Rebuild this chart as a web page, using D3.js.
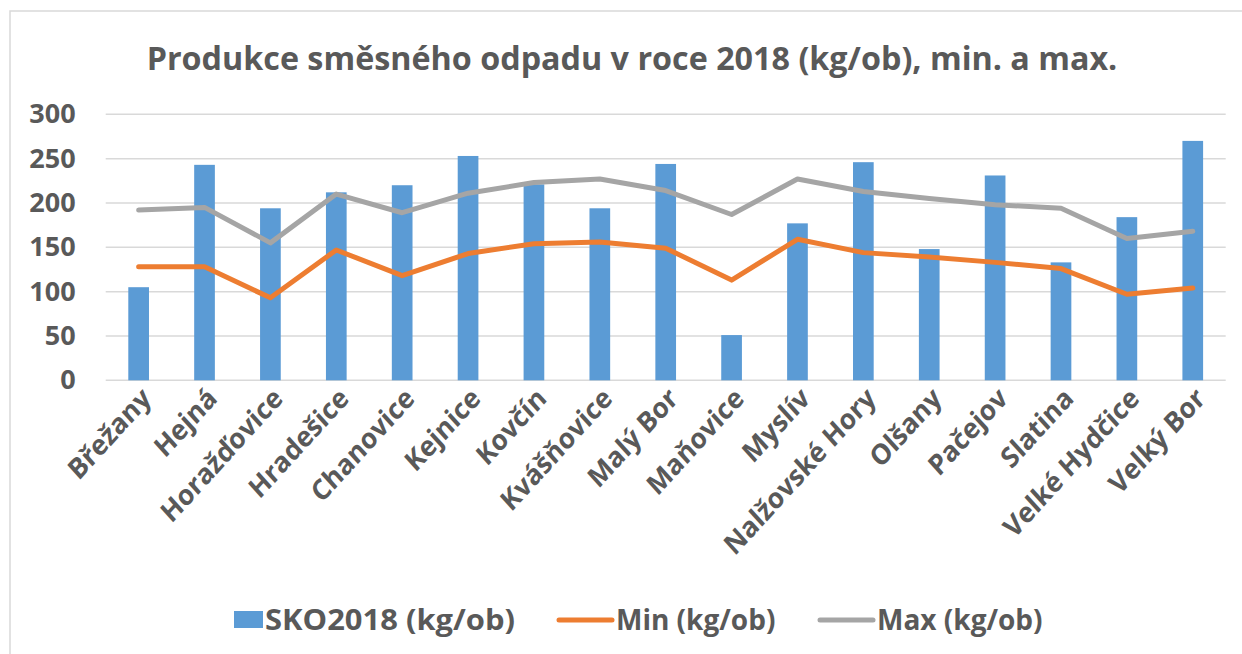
<!DOCTYPE html>
<html>
<head>
<meta charset="utf-8">
<script src="https://cdn.jsdelivr.net/npm/d3@7"></script>
<style>
  body { margin: 0; background: #fff; }
  text { font-family: "Open Sans", sans-serif; font-weight: bold; fill: #595959; }
</style>
</head>
<body>
<div id="container"></div>
<script>
var width = 1242;
var height = 654;

var categories = ["Břežany", "Hejná", "Horažďovice", "Hradešice", "Chanovice", "Kejnice",
    "Kovčín", "Kvášňovice", "Malý Bor", "Maňovice", "Myslív", "Nalžovské Hory",
    "Olšany", "Pačejov", "Slatina", "Velké Hydčice", "Velký Bor"];
var sko2018 = [105, 243, 194, 212, 220, 253, 221, 194, 244, 51, 177, 246, 148, 231, 133, 184, 270];
var minValues = [128, 128, 93, 147, 118, 143, 154, 156, 149, 113, 159, 144, 139, 133, 126, 97, 104];
var maxValues = [192, 195, 155, 210, 189, 211, 223, 227, 214, 187, 227, 213, 205, 198, 194, 160, 168];
var yTicks = [0, 50, 100, 150, 200, 250, 300];
var seriesNames = ["SKO2018 (kg/ob)", "Min (kg/ob)", "Max (kg/ob)"];

var blue = "#5B9BD5", orange = "#ED7D31", gray = "#A5A5A5";

var svg = d3.select("#container")
    .append("svg")
    .attr("width", width)
    .attr("height", height);

// chart border (only left and top visible in the crop)
svg.append("rect")
    .attr("x", 10).attr("y", 11)
    .attr("width", 1300).attr("height", 700)
    .attr("fill", "none")
    .attr("stroke", "#d9d9d9")
    .attr("stroke-width", 1.5);

var xScale = d3.scaleBand()
    .domain(categories)
    .range([105.7, 1225.7])
    .paddingInner(0.686)
    .paddingOuter(0.343);

var yScale = d3.scaleLinear()
    .domain([0, 300])
    .range([380.3, 114.3]);

// gridlines
svg.append("g")
    .selectAll("line")
    .data(yTicks)
    .enter()
    .append("line")
    .attr("x1", 105.7)
    .attr("x2", 1225.7)
    .attr("y1", function (d) { return yScale(d); })
    .attr("y2", function (d) { return yScale(d); })
    .attr("stroke", "#d9d9d9")
    .attr("stroke-width", 1.5);

// y axis labels
var yAxis = d3.axisLeft(yScale).tickValues(yTicks).tickSize(0).tickPadding(30);
var yg = svg.append("g")
    .attr("transform", "translate(105.7,0)")
    .call(yAxis);
yg.select(".domain").remove();
yg.attr("font-family", null).attr("font-size", null);
yg.selectAll("text")
    .attr("font-size", "27px")
    .attr("fill", "#595959");

// bars
svg.append("g")
    .selectAll("rect")
    .data(sko2018)
    .enter()
    .append("rect")
    .attr("x", function (d, i) { return xScale(categories[i]); })
    .attr("y", function (d) { return yScale(d); })
    .attr("width", xScale.bandwidth())
    .attr("height", function (d) { return yScale(0) - yScale(d); })
    .attr("fill", blue);

var line = d3.line()
    .x(function (d, i) { return xScale(categories[i]) + xScale.bandwidth() / 2; })
    .y(function (d) { return yScale(d); });

svg.append("path")
    .datum(minValues)
    .attr("d", line)
    .attr("fill", "none")
    .attr("stroke", orange)
    .attr("stroke-width", 5)
    .attr("stroke-linecap", "round")
    .attr("stroke-linejoin", "round");

svg.append("path")
    .datum(maxValues)
    .attr("d", line)
    .attr("fill", "none")
    .attr("stroke", gray)
    .attr("stroke-width", 5)
    .attr("stroke-linecap", "round")
    .attr("stroke-linejoin", "round");

// category labels (slightly squeezed horizontally, like the source screenshot)
svg.append("g")
    .selectAll("text")
    .data(categories)
    .enter()
    .append("text")
    .attr("transform", function (d) {
        var cx = xScale(d) + xScale.bandwidth() / 2;
        return "translate(" + (cx + 14) + ",400) scale(0.91,1) rotate(-45)";
    })
    .attr("text-anchor", "end")
    .attr("font-size", "28.5px")
    .text(function (d) { return d; });

// title
svg.append("text")
    .attr("x", 632)
    .attr("y", 70)
    .attr("text-anchor", "middle")
    .attr("font-size", "32.3px")
    .text("Produkce směsného odpadu v roce 2018 (kg/ob), min. a max.");

// legend
var legend = svg.append("g");
legend.append("rect")
    .attr("x", 234).attr("y", 611)
    .attr("width", 29).attr("height", 17)
    .attr("fill", blue);
legend.append("text")
    .attr("x", 265).attr("y", 630)
    .attr("font-size", "28px")
    .attr("textLength", 250)
    .attr("lengthAdjust", "spacingAndGlyphs")
    .text(seriesNames[0]);

legend.append("line")
    .attr("x1", 559).attr("x2", 612)
    .attr("y1", 620).attr("y2", 620)
    .attr("stroke", orange).attr("stroke-width", 5).attr("stroke-linecap", "round");
legend.append("text")
    .attr("x", 616).attr("y", 630)
    .attr("font-size", "28px")
    .text(seriesNames[1]);

legend.append("line")
    .attr("x1", 820).attr("x2", 873)
    .attr("y1", 620).attr("y2", 620)
    .attr("stroke", gray).attr("stroke-width", 5).attr("stroke-linecap", "round");
legend.append("text")
    .attr("x", 877).attr("y", 630)
    .attr("font-size", "28px")
    .text(seriesNames[2]);
</script>
</body>
</html>
